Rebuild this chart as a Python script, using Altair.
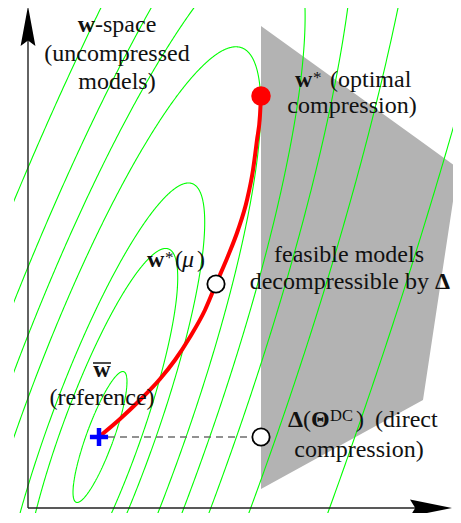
import numpy as np
import pandas as pd
import altair as alt

# ---- coordinate frame of the diagram (figure pixels, y grows downward) ----
X_MIN, X_MAX = 14, 453
Y_MIN, Y_MAX = 8, 513

# ---- axes (origin, end of vertical axis, end of horizontal axis) ----
axis_origin = (28, 508)
axis_top = (28, 6)
axis_right = (452, 508)

# ---- feasible set polygon: upper and lower boundary at the vertex x's ----
poly_x = [261, 423, 458]
poly_top = [26, 142.8, 168]
poly_bot = [489, 400, 168]

# ---- loss contours (ellipses around the reference model) ----
contour_center = (100, 437)
semi_major = 69.5
semi_minor = 13.6
tilt_deg = 20
levels = [1.0, 2.88, 3.88, 5.96, 7.6, 9.45, 12.2, 17.65]

# ---- path of w*(mu) from reference to optimal compression ----
path_x = [100, 120, 140, 160, 175, 190, 205, 216, 228, 238, 247, 253, 257, 260, 261]
path_y = [436, 419, 400, 379, 360, 337, 310, 284, 256, 230, 200, 170, 140, 115, 96]

# ---- special points ----
ref_pt = (99, 437)
opt_pt = (261, 96)
mu_pt = (216, 284)
dc_pt = (261, 437)
dash_x = [108, 252]

# ---- labels ----
labels = [
    # text, x, y, weight, style, size, align
    ("w", 95, 32, "bold", "normal", 24, "right"),
    ("-space", 95, 32, "normal", "normal", 24, "left"),
    ("(uncompressed", 117, 61, "normal", "normal", 24, "center"),
    ("models)", 117, 89, "normal", "normal", 24, "center"),
    ("w", 295, 87, "bold", "normal", 24, "left"),
    ("*", 313, 83, "normal", "normal", 17, "left"),
    ("(optimal", 330, 87, "normal", "normal", 24, "left"),
    ("compression)", 352, 113, "normal", "normal", 24, "center"),
    ("feasible models", 349, 262, "normal", "normal", 24, "center"),
    ("decompressible by", 429, 289, "normal", "normal", 24, "right"),
    ("\u0394", 435, 289, "bold", "normal", 24, "left"),
    ("w", 147, 267, "bold", "normal", 24, "left"),
    ("*", 165, 263, "normal", "normal", 17, "left"),
    ("(", 175, 267, "normal", "normal", 24, "left"),
    ("\u03bc", 182, 267, "normal", "italic", 24, "left"),
    (")", 197, 267, "normal", "normal", 24, "left"),
    ("w", 102, 377, "bold", "normal", 24, "center"),
    ("(reference)", 102, 405, "normal", "normal", 24, "center"),
    ("\u0394", 288, 427, "bold", "normal", 24, "left"),
    ("(", 303, 427, "normal", "normal", 24, "left"),
    ("\u0398", 311, 427, "bold", "normal", 24, "left"),
    ("DC", 330, 421, "normal", "normal", 16.5, "left"),
    (")", 356, 427, "normal", "normal", 24, "left"),
    ("(direct", 375, 427, "normal", "normal", 24, "left"),
    ("compression)", 359, 457, "normal", "normal", 24, "center"),
]
overline_x = [93, 111]
overline_y = 363

FONT = "Liberation Serif"

xs = alt.Scale(domain=[X_MIN, X_MAX], nice=False, zero=False)
ys = alt.Scale(domain=[Y_MIN, Y_MAX], nice=False, zero=False, reverse=True)


def X(field="x"):
    return alt.X(f"{field}:Q", scale=xs, axis=None)


def Y(field="y"):
    return alt.Y(f"{field}:Q", scale=ys, axis=None)


# contour table
phi = np.deg2rad(tilt_deg)
u = np.array([np.sin(phi), -np.cos(phi)])
v = np.array([np.cos(phi), np.sin(phi)])
t = np.linspace(0, 2 * np.pi, 1601)
rows = []
for li, k in enumerate(levels):
    ex = contour_center[0] + k * (semi_major * np.cos(t) * u[0] + semi_minor * np.sin(t) * v[0])
    ey = contour_center[1] + k * (semi_major * np.cos(t) * u[1] + semi_minor * np.sin(t) * v[1])
    for i in range(len(t)):
        rows.append({"lvl": li, "i": i, "x": round(float(ex[i]), 2), "y": round(float(ey[i]), 2)})
contours_df = pd.DataFrame(rows)

poly_df = pd.DataFrame({"x": poly_x, "y": poly_top, "y2": poly_bot})

polygon = alt.Chart(poly_df).mark_area(color="#b3b3b3", opacity=1, interpolate="linear", clip=True).encode(
    x=X(), y=Y(), y2="y2:Q"
)

contours = alt.Chart(contours_df).mark_line(color="#00ff00", strokeWidth=1.1, clip=True).encode(
    x=X(), y=Y(), detail="lvl:N", order="i:Q"
)

axes_df = pd.DataFrame({
    "x": [axis_origin[0], axis_origin[0]],
    "y": [axis_origin[1], axis_origin[1]],
    "x2": [axis_top[0], axis_right[0] - 20],
    "y2": [axis_top[1] + 20, axis_right[1]],
})
axes = alt.Chart(axes_df).mark_rule(color="#222222", strokeWidth=1.4).encode(
    x=X(), y=Y(), x2="x2:Q", y2="y2:Q"
)

up_arrow = alt.Chart(pd.DataFrame({"x": [axis_top[0]], "y": [axis_top[1]]})).mark_point(
    shape="M0,0 L0.37,2 L0,1.72 L-0.37,2 Z", size=1600, filled=True, opacity=1,
    color="#000000", strokeWidth=0
).encode(x=X(), y=Y())
right_arrow = alt.Chart(pd.DataFrame({"x": [axis_right[0]], "y": [axis_right[1]]})).mark_point(
    shape="M0,0 L-2,-0.4 L-1.75,0 L-2,0.4 Z", size=1764, filled=True, opacity=1,
    color="#000000", strokeWidth=0
).encode(x=X(), y=Y())

dash = alt.Chart(pd.DataFrame({"x": [dash_x[0]], "x2": [dash_x[1]], "y": [dc_pt[1]]})).mark_rule(
    color="#6e6e6e", strokeWidth=1.3, strokeDash=[7, 5]
).encode(x=X(), x2="x2:Q", y=Y())

path_df = pd.DataFrame({"x": path_x, "y": path_y, "i": list(range(len(path_x)))})
red_path = alt.Chart(path_df).mark_line(
    color="#ff0000", strokeWidth=4, interpolate="monotone", strokeCap="round"
).encode(x=X(), y=Y(), order="i:Q")

red_dot = alt.Chart(pd.DataFrame({"x": [opt_pt[0]], "y": [opt_pt[1]]})).mark_point(
    shape="circle", size=380, filled=True, opacity=1, color="#ff0000", strokeWidth=0
).encode(x=X(), y=Y())

white_pts = alt.Chart(pd.DataFrame({"x": [mu_pt[0], dc_pt[0]], "y": [mu_pt[1], dc_pt[1]]})).mark_point(
    shape="circle", size=300, filled=False, fill="#ffffff", fillOpacity=1, opacity=1,
    stroke="#000000", strokeWidth=1.8
).encode(x=X(), y=Y())

cross = alt.Chart(pd.DataFrame({"x": [ref_pt[0]], "y": [ref_pt[1]]})).mark_point(
    shape="M-1,0 L1,0 M0,-1 L0,1", size=330, filled=False, opacity=1,
    stroke="#0000ff", strokeWidth=4.5
).encode(x=X(), y=Y())

overline = alt.Chart(pd.DataFrame({"x": [overline_x[0]], "x2": [overline_x[1]], "y": [overline_y]})).mark_rule(
    color="#111111", strokeWidth=1.5
).encode(x=X(), x2="x2:Q", y=Y())

lab_df = pd.DataFrame(labels, columns=["text", "x", "y", "weight", "style", "size", "align"])
text_layers = []
for (w, s, sz, al), g in lab_df.groupby(["weight", "style", "size", "align"]):
    text_layers.append(
        alt.Chart(g[["text", "x", "y"]]).mark_text(
            font=FONT, fontSize=float(sz), fontWeight=w, fontStyle=s, align=al,
            baseline="alphabetic", color="#111111"
        ).encode(x=X(), y=Y(), text="text:N")
    )

chart = alt.layer(
    polygon, contours, axes, up_arrow, right_arrow, dash, red_path, red_dot, white_pts, cross,
    overline, *text_layers
).properties(
    width=X_MAX - X_MIN,
    height=Y_MAX - Y_MIN,
    padding={"left": 6, "top": 0, "right": 0, "bottom": 0},
    autosize=alt.AutoSizeParams(type="none"),
    background="#ffffff",
).configure_view(strokeWidth=0)

chart.save("out.html", embed_options={"renderer": "svg", "actions": False})
